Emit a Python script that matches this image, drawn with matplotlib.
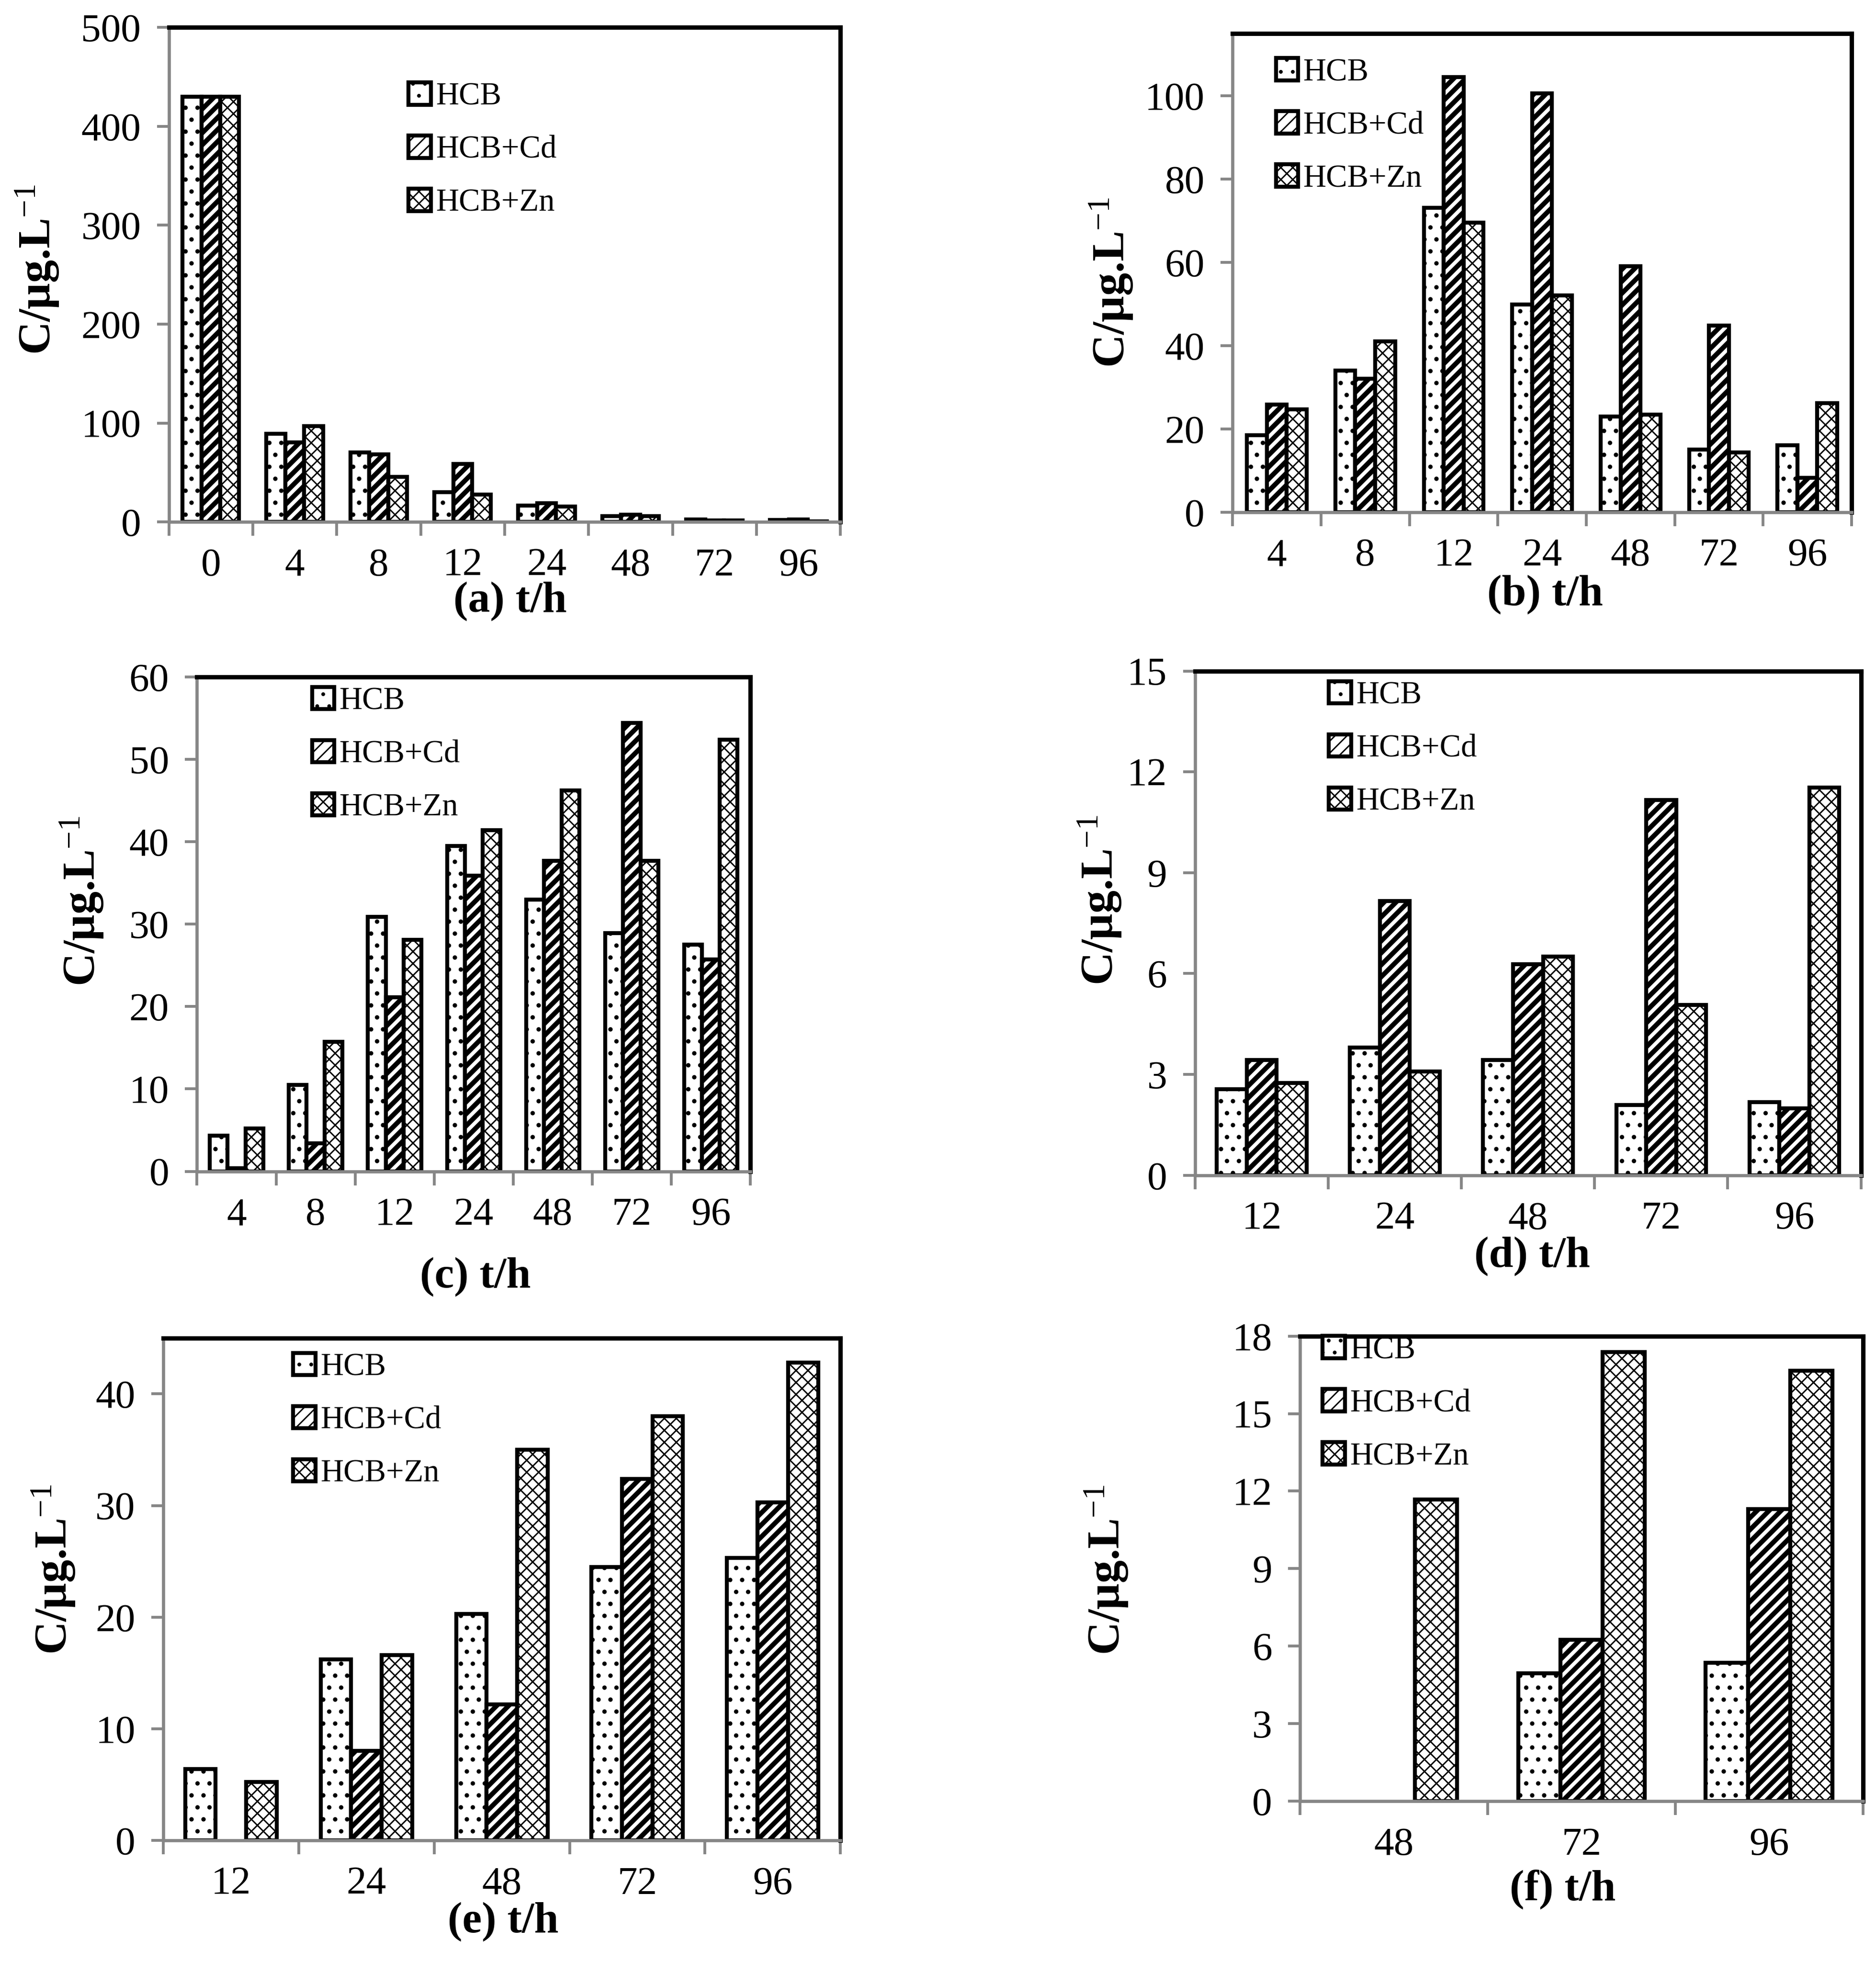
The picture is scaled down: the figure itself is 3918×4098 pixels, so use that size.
import numpy as np
import matplotlib
matplotlib.use('Agg')
import matplotlib.pyplot as plt
from matplotlib.ticker import MultipleLocator

plt.rcParams['font.family'] = ['Liberation Serif', 'DejaVu Serif']
plt.rcParams['mathtext.fontset'] = 'custom'
plt.rcParams['mathtext.rm'] = 'Liberation Serif'
plt.rcParams['mathtext.it'] = 'Liberation Serif:italic'
plt.rcParams['mathtext.bf'] = 'Liberation Serif:bold'

series = ['HCB', 'HCB+Cd', 'HCB+Zn']

# (a)
t_a = ['0', '4', '8', '12', '24', '48', '72', '96']
hcb_a = [430, 89, 70, 30, 16.5, 6, 2.4, 2]
cd_a = [430, 80.5, 68.5, 58.5, 19, 7.3, 1.6, 2.4]
zn_a = [430, 97, 45.5, 27.5, 15.5, 6, 1.6, 0.5]

# (b)
t_b = ['4', '8', '12', '24', '48', '72', '96']
hcb_b = [18.5, 34.0, 73.1, 49.9, 23.0, 15.0, 16.0]
cd_b = [25.8, 32.0, 104.5, 100.6, 59.1, 44.8, 8.2]
zn_b = [24.7, 41.0, 69.5, 52.0, 23.4, 14.3, 26.2]

# (c)
t_c = ['4', '8', '12', '24', '48', '72', '96']
hcb_c = [4.3, 10.5, 30.9, 39.5, 33.0, 28.9, 27.5]
cd_c = [0.4, 3.4, 21.1, 35.9, 37.7, 54.4, 25.7]
zn_c = [5.2, 15.7, 28.1, 41.4, 46.2, 37.7, 52.4]

# (d)
t_d = ['12', '24', '48', '72', '96']
hcb_d = [2.56, 3.80, 3.43, 2.09, 2.18]
cd_d = [3.43, 8.16, 6.28, 11.16, 1.99]
zn_d = [2.74, 3.09, 6.51, 5.07, 11.53]

# (e)
t_e = ['12', '24', '48', '72', '96']
hcb_e = [6.4, 16.2, 20.3, 24.5, 25.3]
cd_e = [0, 8.0, 12.2, 32.4, 30.3]
zn_e = [5.25, 16.6, 35.0, 38.0, 42.8]

# (f)
t_f = ['48', '72', '96']
hcb_f = [0, 4.95, 5.36]
cd_f = [0, 6.24, 11.30]
zn_f = [11.68, 17.39, 16.66]

panels = [
    # name, cats, data, rect, ylim, ystep, legend anchor, ylabel x, ylabel y, xlabel pos
    ('(a) t/h', t_a, (hcb_a, cd_a, zn_a), [0.090, 0.734, 0.358, 0.252], 500, 100,
     (0.357, 0.752), -0.196, 0.51, (0.508, -0.160)),
    ('(b) t/h', t_b, (hcb_b, cd_b, zn_b), [0.657, 0.739, 0.330, 0.244], 115, 20,
     (0.070, 0.807), -0.196, 0.48, (0.505, -0.172)),
    ('(c) t/h', t_c, (hcb_c, cd_c, zn_c), [0.105, 0.403, 0.295, 0.252], 60, 10,
     (0.208, 0.843), -0.208, 0.547, (0.503, -0.213)),
    ('(d) t/h', t_d, (hcb_d, cd_d, zn_d), [0.637, 0.401, 0.355, 0.257], 15, 3,
     (0.201, 0.846), -0.143, 0.546, (0.506, -0.160)),
    ('(e) t/h', t_e, (hcb_e, cd_e, zn_e), [0.087, 0.062, 0.361, 0.256], 45, 10,
     (0.192, 0.836), -0.162, 0.54, (0.502, -0.162)),
    ('(f) t/h', t_f, (hcb_f, cd_f, zn_f), [0.693, 0.082, 0.300, 0.237], 18, 3,
     (0.040, 0.855), -0.344, 0.497, (0.467, -0.190)),
]

hatches = ['..', '////', 'xxxx']
hatch_lw = [1.0, 2.4, 0.7]
grey = '#868686'
bw = 0.225
edge_lw = 2.0

fig = plt.figure(figsize=(3918 / 300, 4098 / 300), dpi=300)

for (xl, cats, data, rect, ytop, ystep, leg_xy, ylx, yly, xl_pos) in panels:
    ax = fig.add_axes(rect)
    x = np.arange(len(cats))
    for k, vals in enumerate(data):
        plt.rcParams['hatch.linewidth'] = hatch_lw[k]
        bars = ax.bar(x + (k - 1) * bw, vals, width=bw, color='white',
                      edgecolor='black', linewidth=edge_lw, hatch=hatches[k],
                      label=series[k])
        for b, v in zip(bars, vals):
            if hasattr(b, 'set_hatch_linewidth'):
                b.set_hatch_linewidth(hatch_lw[k])
            if v == 0:
                # no measurement drawn: hide the flat outline
                b.set_linewidth(0)

    ax.set_xlim(-0.5, len(cats) - 0.5)
    ax.set_ylim(0, ytop)
    ax.yaxis.set_major_locator(MultipleLocator(ystep))
    ax.set_xticks(x)
    ax.set_xticklabels(cats)
    ax.set_xticks(np.arange(len(cats) + 1) - 0.5, minor=True)
    ax.tick_params(axis='x', which='major', length=0, pad=13, labelsize=20)
    ax.tick_params(axis='x', which='minor', length=7, width=1.4, color=grey,
                   direction='out')
    ax.tick_params(axis='y', length=6, width=1.4, color=grey, direction='out',
                   pad=8, labelsize=20)
    for s in ['left', 'bottom']:
        ax.spines[s].set_color(grey)
        ax.spines[s].set_linewidth(1.6)
    for s in ['top', 'right']:
        ax.spines[s].set_color('black')
        ax.spines[s].set_linewidth(2.2)

    ax.text(ylx, yly, r'C/μg.L$^{-1}$', transform=ax.transAxes, rotation=90,
            ha='center', va='center', fontsize=23, fontweight='bold')
    ax.text(xl_pos[0], xl_pos[1], xl, transform=ax.transAxes, ha='center',
            va='center', fontsize=22, fontweight='bold')

    leg = ax.legend(loc='center left', bbox_to_anchor=leg_xy, frameon=False,
                    fontsize=16, borderpad=0, borderaxespad=0, handlelength=0.7,
                    handleheight=0.7, handletextpad=0.15, labelspacing=0.75)
    for h in leg.legend_handles:
        h.set_linewidth(edge_lw)

fig.savefig('out.png', dpi=300)
